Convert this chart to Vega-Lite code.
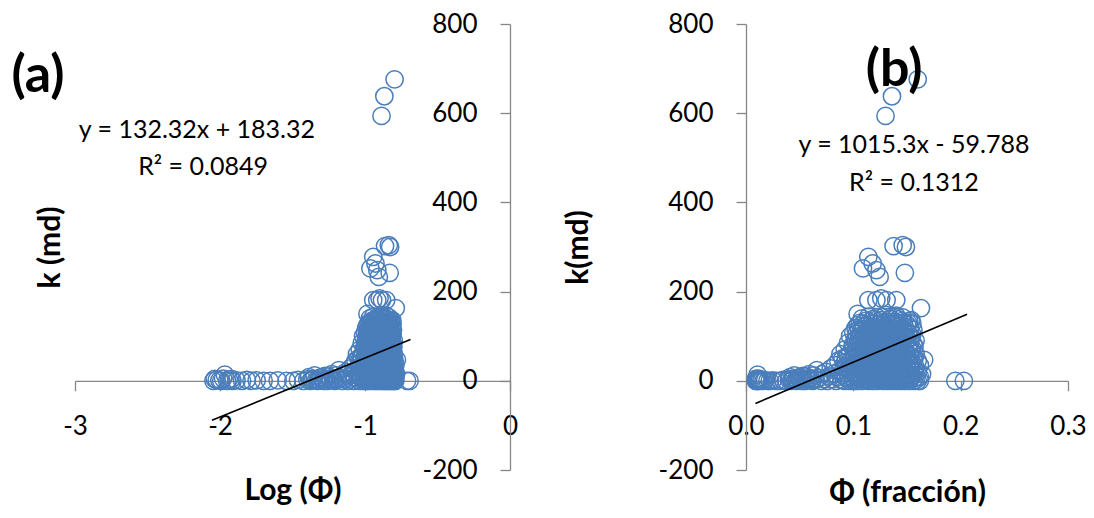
{
  "$schema": "https://vega.github.io/schema/vega-lite/v6.json",
  "autosize": {"type": "none"},
  "padding": {"left": 75, "top": 24, "right": 1019, "bottom": 494},
  "background": "white",
  "config": {
    "view": {"stroke": null},
    "axis": {"grid": false, "domainColor": "#868686", "tickColor": "#868686", "labelColor": "#000000", "titleColor": "#000000", "labelFont": "Lato", "titleFont": "Lato", "labelFontSize": 26, "titleFontSize": 30, "titleFontWeight": "bold", "tickSize": 10, "domainWidth": 1.3, "tickWidth": 1.3, "labelOverlap": false, "labelFlush": false, "labelBound": false}
  },
  "datasets": {
    "pts": [
      {"phi":0.009,"k":0},{"phi":0.0092,"k":4},{"phi":0.0095,"k":2},{"phi":0.0099,"k":1},{"phi":0.0102,"k":0},{"phi":0.0105,"k":5},{"phi":0.0108,"k":14},{"phi":0.0112,"k":0},{"phi":0.0115,"k":3},{"phi":0.012,"k":4},{"phi":0.0122,"k":0},{"phi":0.013,"k":1},{"phi":0.0142,"k":0},{"phi":0.0153,"k":2},{"phi":0.0165,"k":0},{"phi":0.0179,"k":1},{"phi":0.02,"k":0},{"phi":0.0221,"k":0},{"phi":0.025,"k":1},{"phi":0.0288,"k":0},{"phi":0.032,"k":0},{"phi":0.0345,"k":2},{"phi":0.0376,"k":0},{"phi":0.04,"k":3},{"phi":0.041,"k":8},{"phi":0.042,"k":0},{"phi":0.043,"k":2},{"phi":0.044,"k":5},{"phi":0.045,"k":12},{"phi":0.046,"k":1},{"phi":0.047,"k":0},{"phi":0.048,"k":2},{"phi":0.049,"k":6},{"phi":0.05,"k":8},{"phi":0.051,"k":3},{"phi":0.052,"k":0},{"phi":0.053,"k":11},{"phi":0.054,"k":4},{"phi":0.055,"k":0},{"phi":0.056,"k":10},{"phi":0.057,"k":5},{"phi":0.058,"k":2},{"phi":0.059,"k":15},{"phi":0.06,"k":6},{"phi":0.061,"k":1},
      {"phi":0.062,"k":0},{"phi":0.063,"k":12},{"phi":0.065,"k":3},{"phi":0.066,"k":24},{"phi":0.068,"k":6},{"phi":0.07,"k":0},{"phi":0.071,"k":15},{"phi":0.073,"k":4},{"phi":0.074,"k":20},{"phi":0.076,"k":0},{"phi":0.077,"k":10},{"phi":0.079,"k":28},{"phi":0.08,"k":3},{"phi":0.082,"k":16},{"phi":0.083,"k":35},{"phi":0.084,"k":0},{"phi":0.085,"k":8},{"phi":0.086,"k":45},{"phi":0.087,"k":22},{"phi":0.088,"k":60},{"phi":0.089,"k":2},{"phi":0.09,"k":50},{"phi":0.09,"k":12},{"phi":0.091,"k":30},
      {"phi":0.092,"k":0},{"phi":0.092,"k":18},{"phi":0.092,"k":40},{"phi":0.092,"k":70},
      {"phi":0.093,"k":8},{"phi":0.093,"k":30},{"phi":0.093,"k":52},
      {"phi":0.095,"k":5},{"phi":0.095,"k":25},{"phi":0.095,"k":55},{"phi":0.095,"k":85},
      {"phi":0.097,"k":0},{"phi":0.097,"k":35},{"phi":0.097,"k":62},{"phi":0.097,"k":100},
      {"phi":0.099,"k":8},{"phi":0.099,"k":30},{"phi":0.099,"k":52},{"phi":0.099,"k":76},
      {"phi":0.1,"k":2},{"phi":0.1,"k":20},{"phi":0.1,"k":48},{"phi":0.1,"k":78},{"phi":0.1,"k":108},
      {"phi":0.101,"k":0},{"phi":0.101,"k":30},{"phi":0.101,"k":60},{"phi":0.101,"k":90},
      {"phi":0.102,"k":10},{"phi":0.102,"k":38},{"phi":0.102,"k":66},{"phi":0.102,"k":92},{"phi":0.102,"k":118},
      {"phi":0.103,"k":15},{"phi":0.103,"k":45},{"phi":0.103,"k":75},{"phi":0.103,"k":105},
      {"phi":0.104,"k":0},{"phi":0.104,"k":28},{"phi":0.104,"k":55},{"phi":0.104,"k":85},{"phi":0.104,"k":125},{"phi":0.104,"k":150},
      {"phi":0.105,"k":5},{"phi":0.105,"k":35},{"phi":0.105,"k":65},{"phi":0.105,"k":95},{"phi":0.105,"k":115},
      {"phi":0.106,"k":6},{"phi":0.106,"k":42},{"phi":0.106,"k":72},{"phi":0.106,"k":100},{"phi":0.106,"k":130},
      {"phi":0.107,"k":12},{"phi":0.107,"k":30},{"phi":0.107,"k":58},{"phi":0.107,"k":82},{"phi":0.107,"k":110},
      {"phi":0.108,"k":0},{"phi":0.108,"k":22},{"phi":0.108,"k":50},{"phi":0.108,"k":88},{"phi":0.108,"k":115},{"phi":0.108,"k":140},
      {"phi":0.109,"k":4},{"phi":0.109,"k":40},{"phi":0.109,"k":70},{"phi":0.109,"k":100},{"phi":0.109,"k":128},
      {"phi":0.11,"k":12},{"phi":0.11,"k":35},{"phi":0.11,"k":64},{"phi":0.11,"k":95},{"phi":0.11,"k":122},
      {"phi":0.111,"k":20},{"phi":0.111,"k":48},{"phi":0.111,"k":76},{"phi":0.111,"k":104},
      {"phi":0.112,"k":3},{"phi":0.112,"k":28},{"phi":0.112,"k":58},{"phi":0.112,"k":80},{"phi":0.112,"k":110},{"phi":0.112,"k":135},
      {"phi":0.113,"k":10},{"phi":0.113,"k":38},{"phi":0.113,"k":66},{"phi":0.113,"k":94},{"phi":0.113,"k":124},
      {"phi":0.114,"k":0},{"phi":0.114,"k":18},{"phi":0.114,"k":45},{"phi":0.114,"k":74},{"phi":0.114,"k":102},{"phi":0.114,"k":144},
      {"phi":0.115,"k":2},{"phi":0.115,"k":30},{"phi":0.115,"k":56},{"phi":0.115,"k":84},{"phi":0.115,"k":112},{"phi":0.115,"k":132},
      {"phi":0.116,"k":8},{"phi":0.116,"k":36},{"phi":0.116,"k":62},{"phi":0.116,"k":92},{"phi":0.116,"k":120},
      {"phi":0.117,"k":14},{"phi":0.117,"k":44},{"phi":0.117,"k":70},{"phi":0.117,"k":100},{"phi":0.117,"k":128},
      {"phi":0.118,"k":0},{"phi":0.118,"k":25},{"phi":0.118,"k":52},{"phi":0.118,"k":84},{"phi":0.118,"k":112},{"phi":0.118,"k":138},
      {"phi":0.119,"k":6},{"phi":0.119,"k":32},{"phi":0.119,"k":60},{"phi":0.119,"k":90},{"phi":0.119,"k":118},
      {"phi":0.12,"k":5},{"phi":0.12,"k":40},{"phi":0.12,"k":70},{"phi":0.12,"k":98},{"phi":0.12,"k":128},
      {"phi":0.121,"k":12},{"phi":0.121,"k":30},{"phi":0.121,"k":56},{"phi":0.121,"k":84},{"phi":0.121,"k":114},{"phi":0.121,"k":136},
      {"phi":0.122,"k":0},{"phi":0.122,"k":20},{"phi":0.122,"k":48},{"phi":0.122,"k":78},{"phi":0.122,"k":106},{"phi":0.122,"k":142},
      {"phi":0.123,"k":4},{"phi":0.123,"k":38},{"phi":0.123,"k":66},{"phi":0.123,"k":96},{"phi":0.123,"k":126},
      {"phi":0.124,"k":10},{"phi":0.124,"k":34},{"phi":0.124,"k":60},{"phi":0.124,"k":90},{"phi":0.124,"k":118},
      {"phi":0.125,"k":16},{"phi":0.125,"k":44},{"phi":0.125,"k":70},{"phi":0.125,"k":100},{"phi":0.125,"k":128},
      {"phi":0.126,"k":2},{"phi":0.126,"k":26},{"phi":0.126,"k":55},{"phi":0.126,"k":82},{"phi":0.126,"k":110},{"phi":0.126,"k":136},
      {"phi":0.127,"k":8},{"phi":0.127,"k":32},{"phi":0.127,"k":62},{"phi":0.127,"k":90},{"phi":0.127,"k":118},{"phi":0.127,"k":142},
      {"phi":0.128,"k":0},{"phi":0.128,"k":15},{"phi":0.128,"k":44},{"phi":0.128,"k":72},{"phi":0.128,"k":100},{"phi":0.128,"k":130},
      {"phi":0.129,"k":2},{"phi":0.129,"k":28},{"phi":0.129,"k":56},{"phi":0.129,"k":84},{"phi":0.129,"k":114},
      {"phi":0.13,"k":6},{"phi":0.13,"k":38},{"phi":0.13,"k":65},{"phi":0.13,"k":94},{"phi":0.13,"k":122},{"phi":0.13,"k":148},
      {"phi":0.131,"k":14},{"phi":0.131,"k":44},{"phi":0.131,"k":72},{"phi":0.131,"k":102},{"phi":0.131,"k":132},
      {"phi":0.132,"k":0},{"phi":0.132,"k":22},{"phi":0.132,"k":50},{"phi":0.132,"k":80},{"phi":0.132,"k":112},
      {"phi":0.133,"k":8},{"phi":0.133,"k":36},{"phi":0.133,"k":66},{"phi":0.133,"k":96},{"phi":0.133,"k":126},
      {"phi":0.134,"k":4},{"phi":0.134,"k":32},{"phi":0.134,"k":58},{"phi":0.134,"k":88},{"phi":0.134,"k":118},{"phi":0.134,"k":140},
      {"phi":0.135,"k":2},{"phi":0.135,"k":24},{"phi":0.135,"k":52},{"phi":0.135,"k":80},{"phi":0.135,"k":110},{"phi":0.135,"k":138},
      {"phi":0.136,"k":0},{"phi":0.136,"k":16},{"phi":0.136,"k":46},{"phi":0.136,"k":74},{"phi":0.136,"k":104},{"phi":0.136,"k":132},
      {"phi":0.137,"k":12},{"phi":0.137,"k":40},{"phi":0.137,"k":70},{"phi":0.137,"k":100},{"phi":0.137,"k":128},
      {"phi":0.138,"k":8},{"phi":0.138,"k":36},{"phi":0.138,"k":64},{"phi":0.138,"k":96},{"phi":0.138,"k":124},
      {"phi":0.139,"k":4},{"phi":0.139,"k":30},{"phi":0.139,"k":58},{"phi":0.139,"k":88},{"phi":0.139,"k":116},{"phi":0.139,"k":140},
      {"phi":0.14,"k":0},{"phi":0.14,"k":24},{"phi":0.14,"k":52},{"phi":0.14,"k":84},{"phi":0.14,"k":110},{"phi":0.14,"k":146},
      {"phi":0.141,"k":14},{"phi":0.141,"k":42},{"phi":0.141,"k":72},{"phi":0.141,"k":102},{"phi":0.141,"k":130},
      {"phi":0.142,"k":3},{"phi":0.142,"k":30},{"phi":0.142,"k":60},{"phi":0.142,"k":90},{"phi":0.142,"k":120},{"phi":0.142,"k":138},
      {"phi":0.143,"k":8},{"phi":0.143,"k":36},{"phi":0.143,"k":66},{"phi":0.143,"k":96},{"phi":0.143,"k":124},
      {"phi":0.144,"k":0},{"phi":0.144,"k":18},{"phi":0.144,"k":44},{"phi":0.144,"k":70},{"phi":0.144,"k":100},{"phi":0.144,"k":128},
      {"phi":0.145,"k":2},{"phi":0.145,"k":26},{"phi":0.145,"k":52},{"phi":0.145,"k":80},{"phi":0.145,"k":108},{"phi":0.145,"k":134},
      {"phi":0.146,"k":6},{"phi":0.146,"k":34},{"phi":0.146,"k":58},{"phi":0.146,"k":86},{"phi":0.146,"k":116},{"phi":0.146,"k":142},
      {"phi":0.147,"k":12},{"phi":0.147,"k":40},{"phi":0.147,"k":70},{"phi":0.147,"k":98},{"phi":0.147,"k":130},
      {"phi":0.148,"k":0},{"phi":0.148,"k":22},{"phi":0.148,"k":50},{"phi":0.148,"k":80},{"phi":0.148,"k":108},{"phi":0.148,"k":121},
      {"phi":0.149,"k":6},{"phi":0.149,"k":32},{"phi":0.149,"k":58},{"phi":0.149,"k":88},{"phi":0.149,"k":112},
      {"phi":0.15,"k":4},{"phi":0.15,"k":28},{"phi":0.15,"k":62},{"phi":0.15,"k":92},{"phi":0.15,"k":126},
      {"phi":0.151,"k":16},{"phi":0.151,"k":46},{"phi":0.151,"k":78},{"phi":0.151,"k":108},{"phi":0.151,"k":130},
      {"phi":0.152,"k":0},{"phi":0.152,"k":14},{"phi":0.152,"k":40},{"phi":0.152,"k":74},{"phi":0.152,"k":104},{"phi":0.152,"k":134},
      {"phi":0.153,"k":4},{"phi":0.153,"k":28},{"phi":0.153,"k":56},{"phi":0.153,"k":86},{"phi":0.153,"k":118},
      {"phi":0.154,"k":8},{"phi":0.154,"k":36},{"phi":0.154,"k":66},{"phi":0.154,"k":98},{"phi":0.154,"k":136},
      {"phi":0.155,"k":12},{"phi":0.155,"k":40},{"phi":0.155,"k":72},{"phi":0.155,"k":104},{"phi":0.155,"k":128},
      {"phi":0.156,"k":0},{"phi":0.156,"k":20},{"phi":0.156,"k":48},{"phi":0.156,"k":82},{"phi":0.156,"k":114},
      {"phi":0.157,"k":6},{"phi":0.157,"k":24},{"phi":0.157,"k":50},{"phi":0.157,"k":76},
      {"phi":0.158,"k":2},{"phi":0.158,"k":30},{"phi":0.158,"k":60},{"phi":0.158,"k":90},
      {"phi":0.16,"k":0},{"phi":0.16,"k":20},{"phi":0.16,"k":45},
      {"phi":0.162,"k":0},{"phi":0.162,"k":9},{"phi":0.162,"k":35},
      {"phi":0.164,"k":15},{"phi":0.166,"k":47},{"phi":0.163,"k":163},
      {"phi":0.114,"k":181},{"phi":0.1215,"k":181},{"phi":0.126,"k":185},{"phi":0.131,"k":181},{"phi":0.14,"k":181},
      {"phi":0.1375,"k":302},{"phi":0.146,"k":304},{"phi":0.149,"k":300},{"phi":0.114,"k":278},{"phi":0.109,"k":252},{"phi":0.1215,"k":248},{"phi":0.118,"k":263},{"phi":0.1245,"k":233},{"phi":0.148,"k":242},
      {"phi":0.13,"k":594},{"phi":0.136,"k":638},{"phi":0.16,"k":676},
      {"phi":0.195,"k":0},{"phi":0.203,"k":0}
    ],
    "trendA": [{"phi":0.0088,"k":-88.66},{"phi":0.206,"k":92.53}],
    "trendB": [{"phi":0.0088,"k":-50.85},{"phi":0.206,"k":149.36}]
  },
  "spacing": 236,
  "bounds": "flush",
  "hconcat": [
    {
      "width": 435,
      "height": 446,
      "layer": [
        {
          "data": {"name": "pts"},
          "mark": {"type": "point", "shape": "circle", "filled": false, "stroke": "#4a7ebb", "strokeWidth": 1.5, "size": 300, "opacity": 1},
          "encoding": {
            "x": {"field": "phi", "type": "quantitative", "scale": {"type": "log", "domain": [0.001, 1], "nice": false},
              "axis": {"orient": "bottom", "offset": -89.2, "values": [0.001, 0.01, 0.1, 1], "labelExpr": "'' + round(log(datum.value)/LN10)", "title": "Log (Φ)", "titleY": 110, "titleBaseline": "middle", "labelBaseline": "middle", "labelPadding": 36}},
            "y": {"field": "k", "type": "quantitative", "scale": {"domain": [-200, 800], "nice": false, "zero": false},
              "axis": {"orient": "left", "offset": -435, "values": [-200, 0, 200, 400, 600, 800], "labelExpr": "'' + datum.value", "labelPadding": 23, "title": "k (md)", "titleX": -460, "titleY": 223, "titleAngle": -90, "titleAlign": "center", "titleBaseline": "middle"}}
          }
        },
        {
          "data": {"name": "trendA"},
          "mark": {"type": "line", "color": "#000000", "strokeWidth": 1.6},
          "encoding": {"x": {"field": "phi", "type": "quantitative"}, "y": {"field": "k", "type": "quantitative"}}
        },
        {
          "data": {"values": [{}]},
          "mark": {"type": "text", "text": "(a)", "font": "Lato", "fontSize": 52, "fontWeight": "bold", "align": "center", "baseline": "middle", "color": "#000000"},
          "encoding": {"x": {"datum": 0.000556, "type": "quantitative"}, "y": {"datum": 683, "type": "quantitative"}}
        },
        {
          "data": {"values": [{}]},
          "mark": {"type": "text", "text": "y = 132.32x + 183.32", "font": "Lato", "fontSize": 25, "align": "center", "baseline": "middle", "color": "#000000"},
          "encoding": {"x": {"datum": 0.00693, "type": "quantitative"}, "y": {"datum": 562, "type": "quantitative"}}
        },
        {
          "data": {"values": [{}]},
          "mark": {"type": "text", "text": "R² = 0.0849", "font": "Lato", "fontSize": 25, "align": "center", "baseline": "middle", "color": "#000000"},
          "encoding": {"x": {"datum": 0.00764, "type": "quantitative"}, "y": {"datum": 479, "type": "quantitative"}}
        }
      ]
    },
    {
      "width": 322,
      "height": 446,
      "layer": [
        {
          "data": {"name": "pts"},
          "mark": {"type": "point", "shape": "circle", "filled": false, "stroke": "#4a7ebb", "strokeWidth": 1.5, "size": 300, "opacity": 1},
          "encoding": {
            "x": {"field": "phi", "type": "quantitative", "scale": {"domain": [0, 0.3], "nice": false, "zero": false},
              "axis": {"orient": "bottom", "offset": -89.2, "values": [0, 0.1, 0.2, 0.3], "labelExpr": "format(datum.value, '.1f')", "title": "Φ (fracción)", "titleY": 112, "titleBaseline": "middle", "labelBaseline": "middle", "labelPadding": 36}},
            "y": {"field": "k", "type": "quantitative", "scale": {"domain": [-200, 800], "nice": false, "zero": false},
              "axis": {"orient": "left", "values": [-200, 0, 200, 400, 600, 800], "labelExpr": "'' + datum.value", "labelPadding": 23, "title": "k(md)", "titleX": -168, "titleY": 223, "titleAngle": -90, "titleAlign": "center", "titleBaseline": "middle"}}
          }
        },
        {
          "data": {"name": "trendB"},
          "mark": {"type": "line", "color": "#000000", "strokeWidth": 1.6},
          "encoding": {"x": {"field": "phi", "type": "quantitative"}, "y": {"field": "k", "type": "quantitative"}}
        },
        {
          "data": {"values": [{}]},
          "mark": {"type": "text", "text": "(b)", "font": "Lato", "fontSize": 52, "fontWeight": "bold", "align": "center", "baseline": "middle", "color": "#000000"},
          "encoding": {"x": {"datum": 0.138, "type": "quantitative"}, "y": {"datum": 697, "type": "quantitative"}}
        },
        {
          "data": {"values": [{}]},
          "mark": {"type": "text", "text": "y = 1015.3x - 59.788", "font": "Lato", "fontSize": 25, "align": "center", "baseline": "middle", "color": "#000000"},
          "encoding": {"x": {"datum": 0.1565, "type": "quantitative"}, "y": {"datum": 529, "type": "quantitative"}}
        },
        {
          "data": {"values": [{}]},
          "mark": {"type": "text", "text": "R² = 0.1312", "font": "Lato", "fontSize": 25, "align": "center", "baseline": "middle", "color": "#000000"},
          "encoding": {"x": {"datum": 0.1565, "type": "quantitative"}, "y": {"datum": 443, "type": "quantitative"}}
        }
      ]
    }
  ]
}
